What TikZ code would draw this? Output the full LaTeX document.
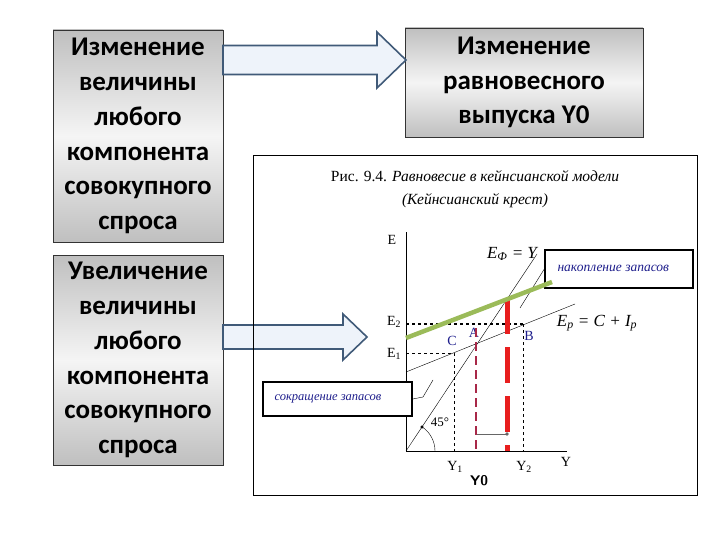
\documentclass[tikz,border=0pt]{standalone}
\usepackage{fontspec}
\setmainfont{Liberation Serif}
\newfontfamily\boxfont{Carlito}
\usetikzlibrary{calc}

\definecolor{arrowline}{RGB}{64,90,120}
\definecolor{arrowfill}{RGB}{238,243,250}
\definecolor{olivegreen}{RGB}{155,187,89}
\definecolor{thickred}{RGB}{232,30,30}
\definecolor{darkred}{RGB}{168,40,72}
\definecolor{labelblue}{RGB}{30,30,140}

% fat arrow between two coordinates: start, end, half shaft, half head, head length
\newcommand{\fatarrow}[5]{%
  \draw[fatarrow] let \p1=(#1), \p2=(#2) in
    (\x1,\y1+#3) -- (\x2-#5,\y1+#3) -- (\x2-#5,\y1+#4) -- (\x2,\y1)
    -- (\x2-#5,\y1-#4) -- (\x2-#5,\y1-#3) -- (\x1,\y1-#3) -- cycle;}

\begin{document}
\begin{tikzpicture}[x=1pt, y=-1pt,
	bigbox/.style={ draw=black!80, top color=gray!50, bottom color=gray!50, middle color=gray!8, align=center, inner sep=0pt, font=\boxfont\bfseries\fontsize{27}{34.8}\selectfont },
	fatarrow/.style={ draw=arrowline, line width=1.6pt, fill=arrowfill, line join=miter },
	callout/.style={ draw=black, line width=1.4pt, fill=white, inner sep=0pt },
	axlabel/.style={ font=\fontsize{14}{16}\selectfont },
	ptlabel/.style={ text=labelblue, font=\fontsize{14}{16}\selectfont },
	figcap/.style={ font=\fontsize{15.5}{18}\selectfont },
	curve/.style={ font=\itshape\fontsize{17}{20}\selectfont }
]
\useasboundingbox (0,0) rectangle (720,540);

% boxes on the left and on top
\node at (138,136) (chg) [bigbox, minimum width=170pt, minimum height=212pt] {Изменение\\величины\\любого\\компонента\\совокупного\\спроса};
\node at (138,360) (inc) [bigbox, minimum width=170pt, minimum height=210pt] {Увеличение\\величины\\любого\\компонента\\совокупного\\спроса};
\node at (524,82.5) (out) [bigbox, minimum width=238pt, minimum height=109pt] {Изменение\\равновесного\\выпуска Y0};

\coordinate (a1s) at (223,60);
\coordinate (a1e) at (406,60);
\coordinate (a2s) at (223,337);
\coordinate (a2e) at (367,337);
\fatarrow{a1s}{a1e}{14.5}{28}{29}
\fatarrow{a2s}{a2e}{12}{23}{24}

% figure frame
\node at (475,325) (fig) [draw=black, line width=0.9pt, minimum width=444pt, minimum height=340pt] {};
\node at (475,176) (title1) [figcap] {Рис. 9.4. \textit{Равновесие в кейнсианской модели}};
\node at (475,201) (title2) [figcap] {\textit{(Кейнсианский крест)}};

% axes
\coordinate (O) at (406,451);
\coordinate (Etop) at (406,232);
\coordinate (Yend) at (567,451);
\draw (Etop) -- (O) -- (Yend);
\node at (392,240) (E) [axlabel] {E};
\node at (566,462) (Y) [axlabel] {Y};

% lines
\coordinate (diag) at (537,254);
\coordinate (Ep0) at (406,372);
\coordinate (Ep1) at (575,304);
\coordinate (A) at (477,344);
\coordinate (B) at (523,324);
\coordinate (C) at (454,353);
\draw (O) -- (diag);
\draw (Ep0) -- (Ep1);
\draw[fill] (422,427) circle (1.3pt);
\draw (O) ++(29,0) arc[start angle=0, end angle=-56.3, radius=29];
\node at (440,422) (ang) [font=\fontsize{13}{15}\selectfont] {45°};

% levels
\coordinate (E1) at (406,353);
\coordinate (E2) at (406,324);
\coordinate (Y1) at (454,451);
\coordinate (Y2) at (523,451);
\draw[dashed] (E1) -- (C) -- (Y1);
\draw[dashed, line width=1.3pt] (E2) -- (B);
\draw[dashed] (B) -- (Y2);
\node at (394,322) (e2) [axlabel] {E\textsubscript{2}};
\node at (394,354) (e1) [axlabel] {E\textsubscript{1}};
\node at (455,467) (y1) [axlabel] {Y\textsubscript{1}};
\node at (524,467) (y2) [axlabel] {Y\textsubscript{2}};
\node at (474,333) (lA) [ptlabel] {A};
\node at (452,341) (lC) [ptlabel] {C};
\node at (529,336) (lB) [ptlabel] {B};
\node at (512,254) (eq1) [curve] {E\textsubscript{Ф} = Y};
\node at (597,323) (eq2) [curve] {E\textsubscript{p} = C + I\textsubscript{p}};

% callouts
\node at (619,269) (acc) [callout, minimum width=148pt, minimum height=38pt] {};
\node at (554,268) (acctext) [anchor=west, text=labelblue, font=\itshape\fontsize{13.5}{15}\selectfont] {накопление запасов};
\node at (337.5,399) (dec) [callout, minimum width=149pt, minimum height=34pt] {};
\node at (271,399) (dectext) [anchor=west, text=labelblue, font=\itshape\fontsize{12.5}{14}\selectfont] {сокращение запасов};
\coordinate (p1) at (520,308);
\coordinate (p2) at (423,397);
\coordinate (p3) at (433,380);
\draw (acc.west) -- (p1);
\draw (dec.east) -- (p2) -- (p3);

% new equilibrium
\coordinate (R0) at (507,298);
\coordinate (R1) at (507,451);
\coordinate (Y0top) at (476,328);
\coordinate (Y0) at (476,451);
\coordinate (g0) at (406,338);
\coordinate (g1) at (552,282);
\draw[thickred, line width=5pt, dash pattern=on 36pt off 13pt] (R0) -- (R1);
\draw[darkred, line width=2.3pt, dash pattern=on 9pt off 5pt] (Y0top) -- (Y0);
\draw[olivegreen, line width=4.5pt] (g0) -- (g1);
\coordinate (gr0) at (477,434);
\coordinate (gr1) at (507,434);
\draw[gray!80!black] (gr0) -- (gr1);
\fill[gray!80!black] (gr1) circle (1.8pt);
\node at (479,481) (ynew) [font=\sffamily\bfseries\fontsize{14}{16}\selectfont] {Y0};

\end{tikzpicture}
\end{document}
